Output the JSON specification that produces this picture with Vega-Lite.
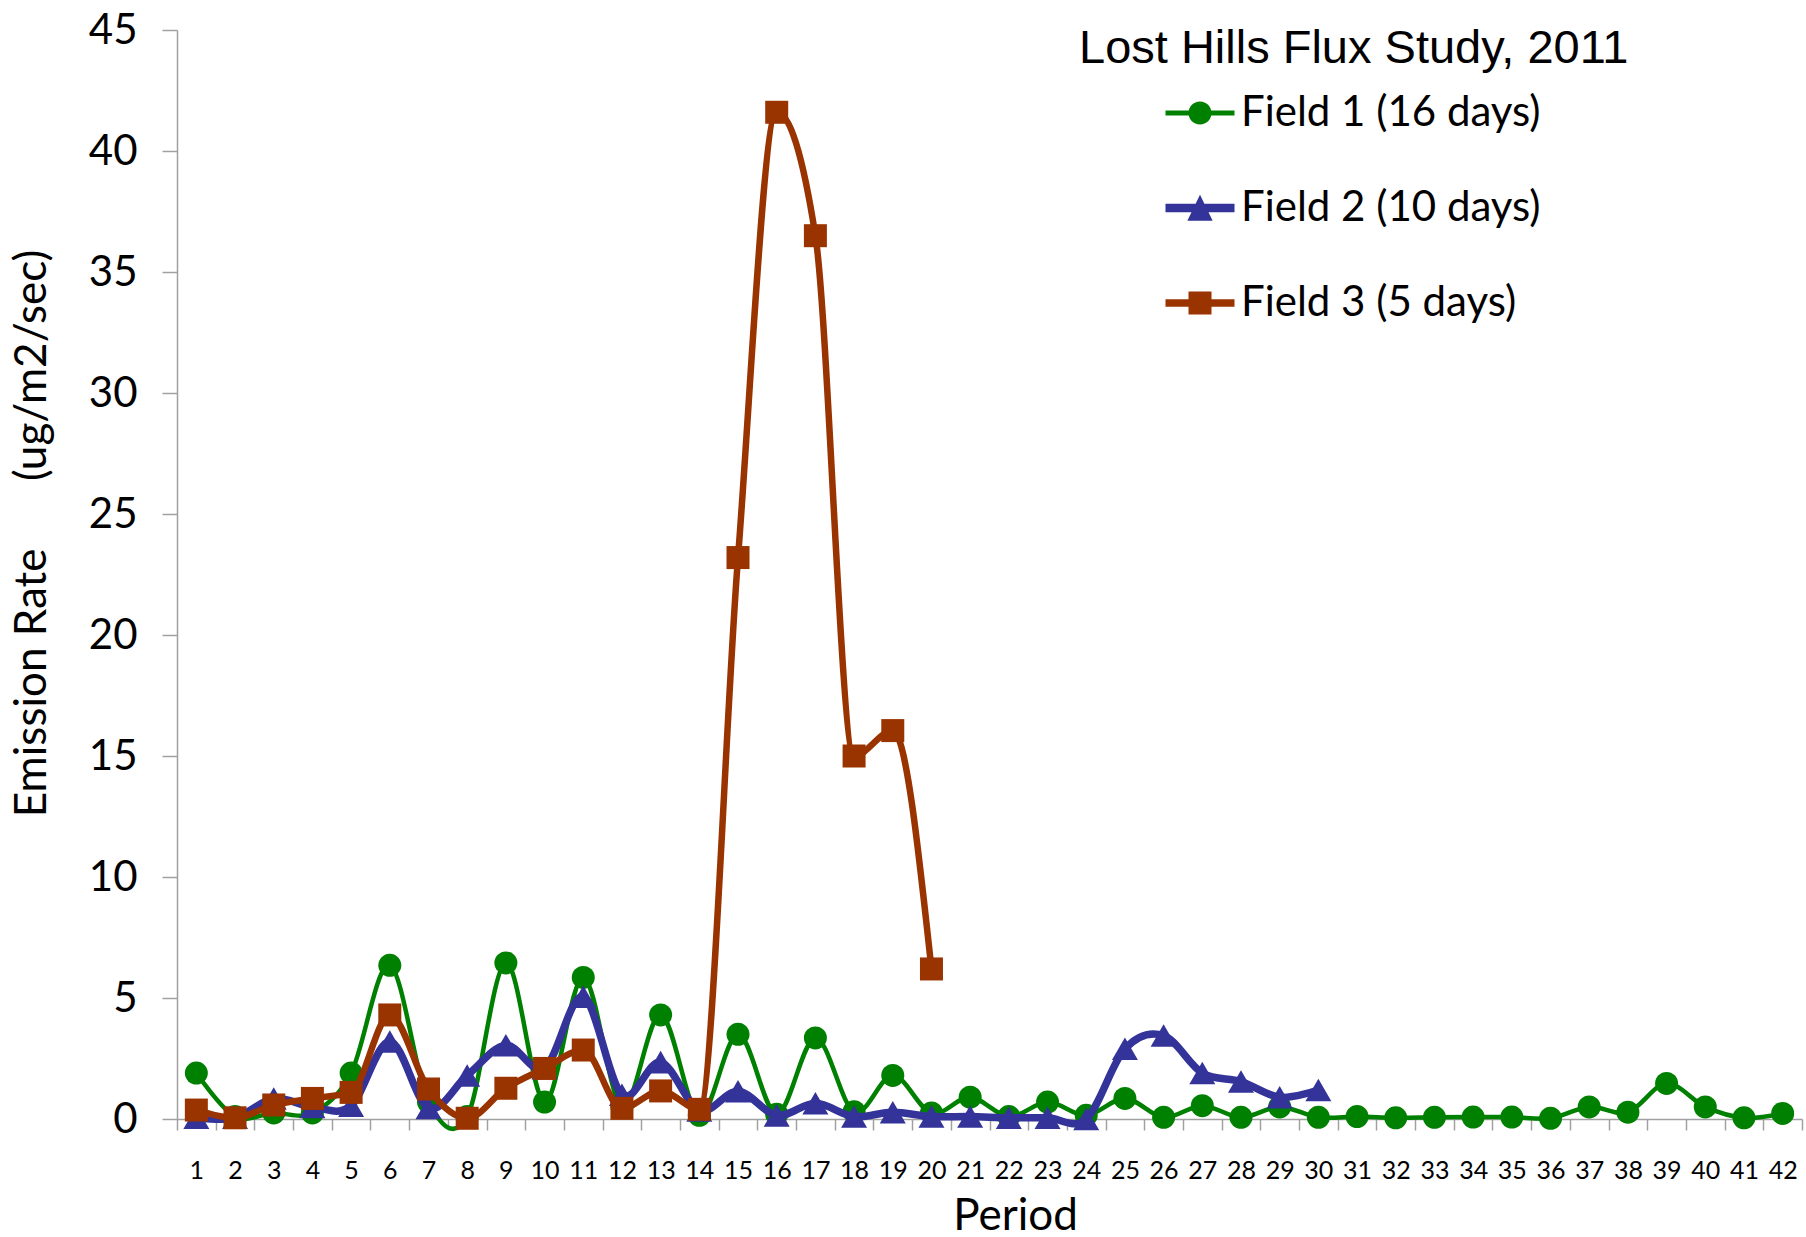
{
  "$schema": "https://vega.github.io/schema/vega-lite/v6.json",
  "width": 1625,
  "height": 1089,
  "autosize": {"type": "none"},
  "padding": {"left": 177, "top": 30, "right": 4, "bottom": 118},
  "background": "white",
  "config": {"view": {"stroke": null}},
  "data": {"values": [
    {"period":1,"field":"Field 1 (16 days)","value":1.9},
    {"period":2,"field":"Field 1 (16 days)","value":0.1},
    {"period":3,"field":"Field 1 (16 days)","value":0.25},
    {"period":4,"field":"Field 1 (16 days)","value":0.25},
    {"period":5,"field":"Field 1 (16 days)","value":1.9},
    {"period":6,"field":"Field 1 (16 days)","value":6.35},
    {"period":7,"field":"Field 1 (16 days)","value":0.7},
    {"period":8,"field":"Field 1 (16 days)","value":0.1},
    {"period":9,"field":"Field 1 (16 days)","value":6.45},
    {"period":10,"field":"Field 1 (16 days)","value":0.7},
    {"period":11,"field":"Field 1 (16 days)","value":5.85},
    {"period":12,"field":"Field 1 (16 days)","value":0.5},
    {"period":13,"field":"Field 1 (16 days)","value":4.3},
    {"period":14,"field":"Field 1 (16 days)","value":0.15},
    {"period":15,"field":"Field 1 (16 days)","value":3.5},
    {"period":16,"field":"Field 1 (16 days)","value":0.2},
    {"period":17,"field":"Field 1 (16 days)","value":3.35},
    {"period":18,"field":"Field 1 (16 days)","value":0.3},
    {"period":19,"field":"Field 1 (16 days)","value":1.8},
    {"period":20,"field":"Field 1 (16 days)","value":0.25},
    {"period":21,"field":"Field 1 (16 days)","value":0.9},
    {"period":22,"field":"Field 1 (16 days)","value":0.1},
    {"period":23,"field":"Field 1 (16 days)","value":0.7},
    {"period":24,"field":"Field 1 (16 days)","value":0.15},
    {"period":25,"field":"Field 1 (16 days)","value":0.85},
    {"period":26,"field":"Field 1 (16 days)","value":0.07},
    {"period":27,"field":"Field 1 (16 days)","value":0.55},
    {"period":28,"field":"Field 1 (16 days)","value":0.07},
    {"period":29,"field":"Field 1 (16 days)","value":0.5},
    {"period":30,"field":"Field 1 (16 days)","value":0.07},
    {"period":31,"field":"Field 1 (16 days)","value":0.1},
    {"period":32,"field":"Field 1 (16 days)","value":0.05},
    {"period":33,"field":"Field 1 (16 days)","value":0.07},
    {"period":34,"field":"Field 1 (16 days)","value":0.08},
    {"period":35,"field":"Field 1 (16 days)","value":0.08},
    {"period":36,"field":"Field 1 (16 days)","value":0.03},
    {"period":37,"field":"Field 1 (16 days)","value":0.5},
    {"period":38,"field":"Field 1 (16 days)","value":0.28},
    {"period":39,"field":"Field 1 (16 days)","value":1.47},
    {"period":40,"field":"Field 1 (16 days)","value":0.5},
    {"period":41,"field":"Field 1 (16 days)","value":0.05},
    {"period":42,"field":"Field 1 (16 days)","value":0.23},
    {"period":1,"field":"Field 2 (10 days)","value":0.05},
    {"period":2,"field":"Field 2 (10 days)","value":0.05},
    {"period":3,"field":"Field 2 (10 days)","value":0.85},
    {"period":4,"field":"Field 2 (10 days)","value":0.5},
    {"period":5,"field":"Field 2 (10 days)","value":0.55},
    {"period":6,"field":"Field 2 (10 days)","value":3.2},
    {"period":7,"field":"Field 2 (10 days)","value":0.45},
    {"period":8,"field":"Field 2 (10 days)","value":1.8},
    {"period":9,"field":"Field 2 (10 days)","value":3.05},
    {"period":10,"field":"Field 2 (10 days)","value":2.1},
    {"period":11,"field":"Field 2 (10 days)","value":5.05},
    {"period":12,"field":"Field 2 (10 days)","value":1.0},
    {"period":13,"field":"Field 2 (10 days)","value":2.35},
    {"period":14,"field":"Field 2 (10 days)","value":0.35},
    {"period":15,"field":"Field 2 (10 days)","value":1.15},
    {"period":16,"field":"Field 2 (10 days)","value":0.15},
    {"period":17,"field":"Field 2 (10 days)","value":0.65},
    {"period":18,"field":"Field 2 (10 days)","value":0.1},
    {"period":19,"field":"Field 2 (10 days)","value":0.28},
    {"period":20,"field":"Field 2 (10 days)","value":0.1},
    {"period":21,"field":"Field 2 (10 days)","value":0.1},
    {"period":22,"field":"Field 2 (10 days)","value":0.05},
    {"period":23,"field":"Field 2 (10 days)","value":0.05},
    {"period":24,"field":"Field 2 (10 days)","value":0.0},
    {"period":25,"field":"Field 2 (10 days)","value":2.9},
    {"period":26,"field":"Field 2 (10 days)","value":3.45},
    {"period":27,"field":"Field 2 (10 days)","value":1.9},
    {"period":28,"field":"Field 2 (10 days)","value":1.55},
    {"period":29,"field":"Field 2 (10 days)","value":0.9},
    {"period":30,"field":"Field 2 (10 days)","value":1.2},
    {"period":1,"field":"Field 3 (5 days)","value":0.37},
    {"period":2,"field":"Field 3 (5 days)","value":0.05},
    {"period":3,"field":"Field 3 (5 days)","value":0.58},
    {"period":4,"field":"Field 3 (5 days)","value":0.85},
    {"period":5,"field":"Field 3 (5 days)","value":1.1},
    {"period":6,"field":"Field 3 (5 days)","value":4.3},
    {"period":7,"field":"Field 3 (5 days)","value":1.24},
    {"period":8,"field":"Field 3 (5 days)","value":0.03},
    {"period":9,"field":"Field 3 (5 days)","value":1.27},
    {"period":10,"field":"Field 3 (5 days)","value":2.09},
    {"period":11,"field":"Field 3 (5 days)","value":2.85},
    {"period":12,"field":"Field 3 (5 days)","value":0.44},
    {"period":13,"field":"Field 3 (5 days)","value":1.16},
    {"period":14,"field":"Field 3 (5 days)","value":0.4},
    {"period":15,"field":"Field 3 (5 days)","value":23.2},
    {"period":16,"field":"Field 3 (5 days)","value":41.6},
    {"period":17,"field":"Field 3 (5 days)","value":36.5},
    {"period":18,"field":"Field 3 (5 days)","value":15.0},
    {"period":19,"field":"Field 3 (5 days)","value":16.05},
    {"period":20,"field":"Field 3 (5 days)","value":6.2}
  ]},
  "encoding": {
    "x": {
      "field": "period", "type": "ordinal", "bandPosition": 0.5,
      "scale": {"type": "band", "paddingInner": 0, "paddingOuter": 0},
      "axis": {
        "title": "Period", "labelAngle": 0, "grid": false,
        "tickBand": "extent", "tickSize": 11, "tickColor": "#a0a0a0", "tickWidth": 1.5,
        "domainColor": "#a0a0a0", "domainWidth": 1.5,
        "labelFont": "Lato", "labelFontSize": 25, "labelColor": "black", "labelPadding": 28,
        "titleFont": "Lato", "titleFontSize": 44, "titleFontWeight": "normal", "titleColor": "black",
        "titleX": 838, "titleY": 110, "titleAlign": "center", "titleBaseline": "alphabetic"
      }
    },
    "y": {
      "field": "value", "type": "quantitative",
      "scale": {"domain": [0, 45], "nice": false, "zero": true},
      "axis": {
        "title": "Emission Rate\u00a0\u00a0\u00a0\u00a0\u00a0\u00a0(ug/m2/sec)", "grid": false,
        "values": [0, 5, 10, 15, 20, 25, 30, 35, 40, 45],
        "tickSize": 15, "tickColor": "#a0a0a0", "tickWidth": 1.5,
        "domainColor": "#a0a0a0", "domainWidth": 1.5,
        "labelFont": "Lato", "labelFontSize": 42, "labelColor": "black", "labelPadding": 25,
        "titleFont": "Lato", "titleFontSize": 44, "titleFontWeight": "normal", "titleColor": "black",
        "titleX": -145, "titleY": 503, "titleAngle": 270, "titleAlign": "center", "titleBaseline": "middle"
      }
    }
  },
  "layer": [
    {
      "transform": [{"filter": "datum.field == 'Field 1 (16 days)'"}],
      "mark": {"type": "line", "color": "#008000", "strokeWidth": 4.5, "interpolate": "cardinal"}
    },
    {
      "transform": [{"filter": "datum.field == 'Field 1 (16 days)'"}],
      "mark": {"type": "point", "shape": "circle", "filled": true, "size": 529, "opacity": 1},
      "encoding": {
        "color": {
          "field": "field", "type": "nominal",
          "scale": {"domain": ["Field 1 (16 days)", "Field 2 (10 days)", "Field 3 (5 days)"], "range": ["#008000", "#333399", "#993300"]},
          "legend": {
            "orient": "none", "legendX": 902, "legendY": -4,
            "title": "Lost Hills Flux Study, 2011",
            "titleFont": "Liberation Sans", "titleFontSize": 47, "titleFontWeight": "normal", "titleColor": "black",
            "titleLimit": 2000, "titlePadding": 19, "titleBaseline": "top",
            "labelFont": "Lato", "labelFontSize": 42, "labelColor": "black", "labelLimit": 2000,
            "symbolSize": 529, "symbolOffset": 100, "labelOffset": 20, "rowPadding": 53, "padding": 0,
            "symbolStrokeWidth": 0, "symbolOpacity": 1,
            "encode": {"symbols": {"update": {
              "shape": {"signal": "datum.value == 'Field 1 (16 days)' ? 'M-3,-0.22H3V0.22H-3Z M-1,0A1,1 0 1,1 1,0A1,1 0 1,1 -1,0Z' : datum.value == 'Field 2 (10 days)' ? 'M-3,-0.36H3V0.36H-3Z M0,-1.15L1.1,1.1L-1.1,1.1Z' : 'M-3,-0.33H3V0.33H-3Z M-1,-1H1V1H-1Z'"},
              "strokeWidth": {"value": 0},
              "opacity": {"value": 1}
            }}}
          }
        }
      }
    },
    {
      "transform": [{"filter": "datum.field == 'Field 2 (10 days)'"}],
      "mark": {"type": "line", "color": "#333399", "strokeWidth": 7.5, "interpolate": "cardinal"}
    },
    {
      "transform": [{"filter": "datum.field == 'Field 2 (10 days)'"}],
      "mark": {"type": "point", "shape": "triangle-up", "filled": true, "size": 676, "opacity": 1},
      "encoding": {"color": {"field": "field", "type": "nominal"}}
    },
    {
      "transform": [{"filter": "datum.field == 'Field 3 (5 days)'"}],
      "mark": {"type": "line", "color": "#993300", "strokeWidth": 6.5, "interpolate": "monotone"}
    },
    {
      "transform": [{"filter": "datum.field == 'Field 3 (5 days)'"}],
      "mark": {"type": "point", "shape": "square", "filled": true, "size": 529, "opacity": 1},
      "encoding": {"color": {"field": "field", "type": "nominal"}}
    }
  ]
}
